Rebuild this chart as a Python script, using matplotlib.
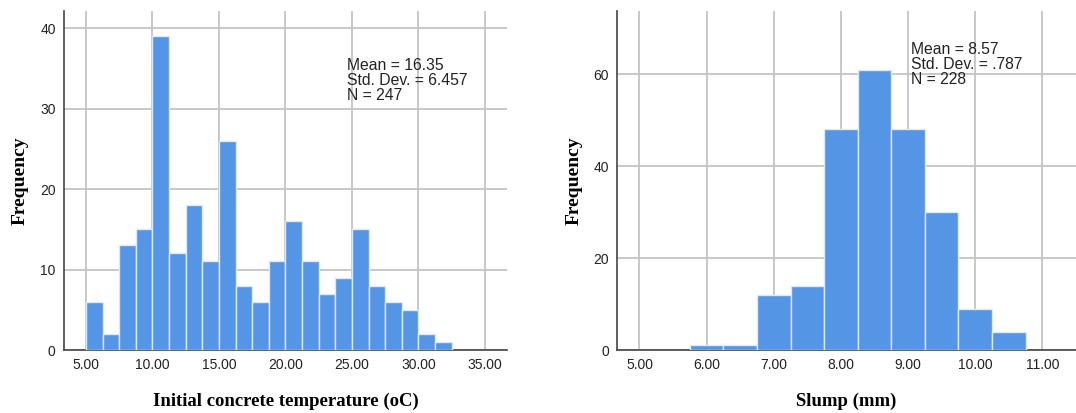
import matplotlib.pyplot as plt
import numpy as np

# Initial concrete temperature histogram (bin width 1.25 starting at 5.00)
temp_bin_start = 5.0
temp_bin_width = 1.25
temp_counts = [6, 2, 13, 15, 39, 12, 18, 11, 26, 8, 6, 11, 16, 11, 7, 9, 15, 8, 6, 5, 2, 1]
temp_ticks = [5.0, 10.0, 15.0, 20.0, 25.0, 30.0, 35.0]
temp_stats = 'Mean = 16.35\nStd. Dev. = 6.457\nN = 247'

# Slump histogram (bin width 0.5 starting at 5.75)
slump_bin_start = 5.75
slump_bin_width = 0.5
slump_counts = [1, 1, 12, 14, 48, 61, 48, 30, 9, 4]
slump_ticks = [5.0, 6.0, 7.0, 8.0, 9.0, 10.0, 11.0]
slump_stats = 'Mean = 8.57\nStd. Dev. = .787\nN = 228'

bar_color = '#5595e5'
grid_color = '#c4c4c4'
text_font = 'Liberation Sans'
label_font = 'Liberation Serif'

fig = plt.figure(figsize=(10.76, 4.13), dpi=100)
ax1 = fig.add_axes([0.0595, 0.1525, 0.4115, 0.8205])
ax2 = fig.add_axes([0.5737, 0.1525, 0.4263, 0.8205])


def draw_hist(ax, start, width, counts, ticks, yticks, xlim, ylim, stats, stats_xy, xlabel):
    edges = start + width * np.arange(len(counts))
    ax.bar(edges, counts, width=width, align='edge', color=bar_color,
           edgecolor='#dce9f8', linewidth=1.0, zorder=3)
    ax.set_xlim(*xlim)
    ax.set_ylim(*ylim)
    ax.set_xticks(ticks)
    ax.set_xticklabels(['%.2f' % t for t in ticks])
    ax.set_yticks(yticks)
    ax.grid(True, color=grid_color, linewidth=1.3, zorder=0)
    ax.set_axisbelow(True)
    for s in ['top', 'right']:
        ax.spines[s].set_visible(False)
    for s in ['left', 'bottom']:
        ax.spines[s].set_color('#444444')
        ax.spines[s].set_linewidth(1.2)
    ax.tick_params(length=0, pad=6, labelsize=10, labelcolor='#222222')
    for lab in ax.get_xticklabels() + ax.get_yticklabels():
        lab.set_fontfamily(text_font)
    ax.set_ylabel('Frequency', fontfamily=label_font, fontweight='bold', fontsize=14, labelpad=8)
    ax.set_xlabel(xlabel, fontfamily=label_font, fontweight='bold', fontsize=13.5, labelpad=15)
    ax.text(stats_xy[0], stats_xy[1], stats, fontfamily=text_font, fontsize=11.3,
            va='top', ha='left', color='#222222', linespacing=1.0, zorder=4)


draw_hist(ax1, temp_bin_start, temp_bin_width, temp_counts, temp_ticks,
          [0, 10, 20, 30, 40], (3.35, 36.65), (0, 42.1), temp_stats, (24.6, 36.3),
          'Initial concrete temperature (oC)')
draw_hist(ax2, slump_bin_start, slump_bin_width, slump_counts, slump_ticks,
          [0, 20, 40, 60], (4.67, 11.5), (0, 73.7), slump_stats, (9.04, 67.0),
          'Slump (mm)')

plt.savefig('out.png', dpi=100)
